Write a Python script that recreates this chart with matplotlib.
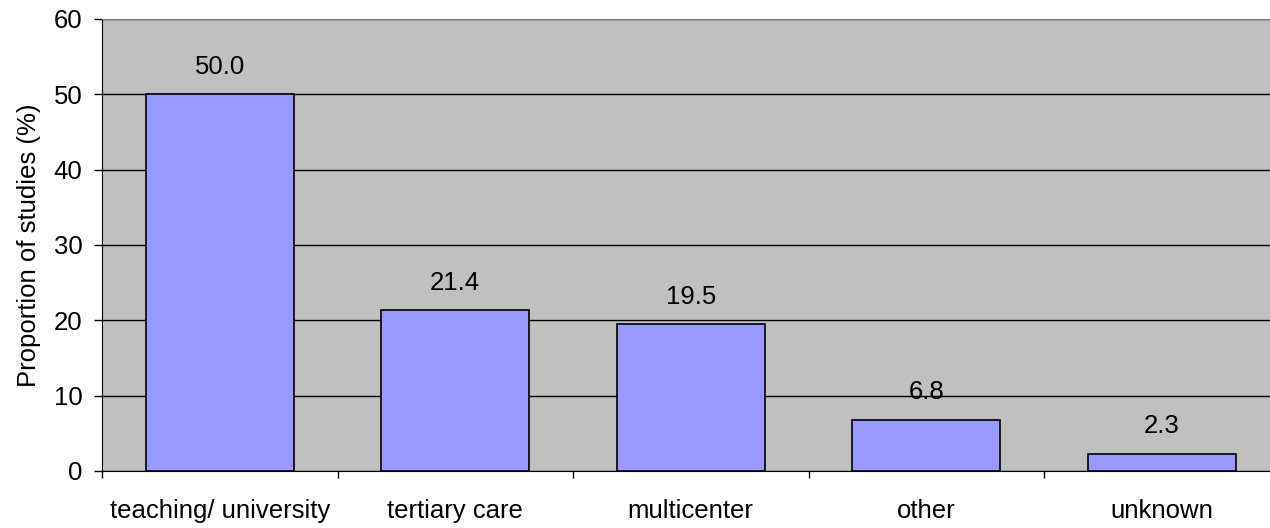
import matplotlib
matplotlib.use("Agg")
import matplotlib.pyplot as plt
import numpy as np

categories = ["teaching/ university", "tertiary care", "multicenter", "other", "unknown"]
proportions = [50.0, 21.4, 19.5, 6.8, 2.3]
y_ticks = [0, 10, 20, 30, 40, 50, 60]

plt.rcParams['font.family'] = ['Liberation Sans', 'DejaVu Sans']
FS = 18.5

fig = plt.figure(figsize=(12.70, 5.28), dpi=100)
# axes extends slightly past the right edge of the figure
ax = fig.add_axes([102 / 1270, 1 - 471 / 528, 1177.5 / 1270, 452 / 528])
ax.set_facecolor('#C0C0C0')

x = np.arange(len(categories))
ax.bar(x, proportions, width=0.628, color='#9999FF', edgecolor='black', linewidth=1.2, zorder=3)

for xi, v in zip(x, proportions):
    ax.annotate(f"{v:.1f}", (xi, v), xytext=(0, 11), textcoords='offset points',
                ha='center', va='bottom', fontsize=FS)

ax.set_xlim(-0.5, len(categories) - 0.5)
ax.set_ylim(0, 60)
ax.set_yticks(y_ticks)
ax.yaxis.grid(True, color='black', linewidth=1, zorder=1)
ax.set_axisbelow(True)

ax.set_xticks(x)
ax.set_xticklabels(categories, fontsize=FS)
ax.tick_params(axis='x', length=0, pad=20)
ax.set_xticks(np.arange(len(categories)) - 0.5, minor=True)
ax.tick_params(axis='x', which='minor', length=5, width=1, direction='out')
ax.tick_params(axis='y', length=6, width=1, direction='out', labelsize=FS, pad=8)

ax.set_ylabel("Proportion of studies (%)", fontsize=FS, labelpad=9)

ax.spines['right'].set_visible(False)
ax.spines['top'].set_color('#808080')
ax.spines['left'].set_color('black')
ax.spines['bottom'].set_color('black')

fig.savefig("out.png", dpi=100)
